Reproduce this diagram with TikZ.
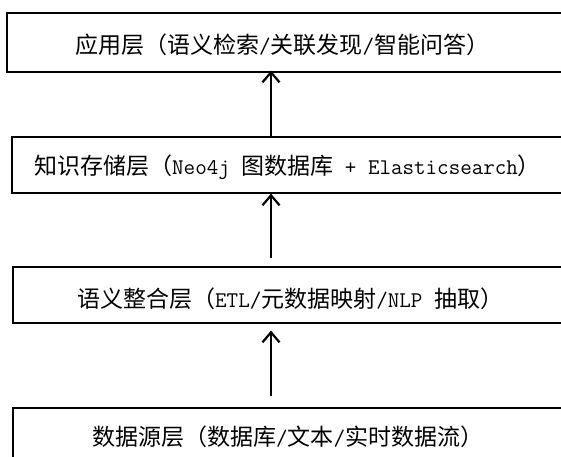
\documentclass[tikz,border=0pt]{standalone}
\usepackage{fontspec}
\usetikzlibrary{arrows.meta}
\newfontfamily\cjk{Noto Sans CJK SC}
\newcommand\lt[1]{{\ttfamily\fontsize{22.4pt}{25pt}\selectfont #1}}
\begin{document}
\begin{tikzpicture}[x=1pt,y=-1pt,
  layerbox/.style={draw=black,line width=1.6pt,fill=none,inner sep=0pt,
    minimum width=574pt,anchor=north west},
  layertext/.style={anchor=west,inner sep=0pt,text=black,
    font=\cjk\fontsize{23pt}{26pt}\selectfont},
  uparrow/.style={line width=2.2pt,-{Straight Barb[length=10pt,width=17pt]}}]
\useasboundingbox (0,0) rectangle (561,456);
\clip (0,0) rectangle (561,456);
\node[layerbox,minimum height=59pt] (b1) at (6,12) {};
\node[layerbox,minimum height=56pt] (b2) at (11,136) {};
\node[layerbox,minimum height=56pt] (b3) at (12,266) {};
\node[layerbox,minimum height=70pt] (b4) at (12,407) {};
\node[layertext] (t1) at (75,45) {应用层（语义检索\lt{/}关联发现\lt{/}智能问答）};
\node[layertext] (t2) at (34,167) {知识存储层（\lt{Neo4j }图数据库\lt{ + Elasticsearch}）};
\node[layertext] (t3) at (77,299) {语义整合层（\lt{ETL/}元数据映射\lt{/NLP }抽取）};
\node[layertext] (t4) at (92,437) {数据源层（数据库\lt{/}文本\lt{/}实时数据流）};
\coordinate (ax) at (271,0);
\draw[uparrow] (b2.north -| ax) -- ([yshift=2pt]b1.south -| ax);
\draw[uparrow,shorten <=8pt] (b3.north -| ax) -- (b2.south -| ax);
\draw[uparrow,shorten <=11pt,shorten >=7pt] (b4.north -| ax) -- (b3.south -| ax);
\end{tikzpicture}
\end{document}
